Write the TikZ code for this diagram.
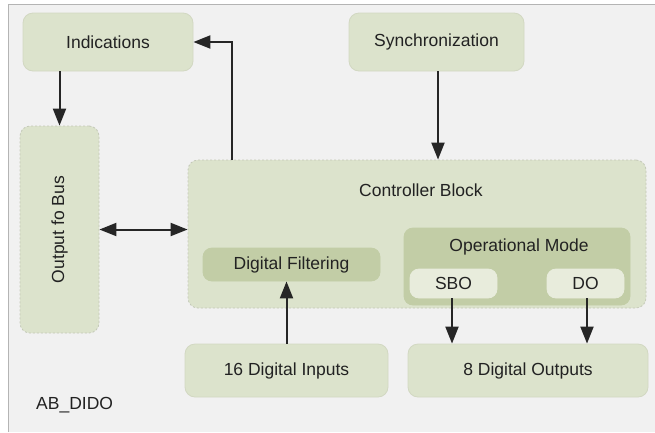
\documentclass[tikz,border=0pt]{standalone}
\usepackage{fontspec}
\setmainfont{Liberation Sans}
\usetikzlibrary{arrows.meta}
\definecolor{bg}{HTML}{F1F1F1}
\definecolor{frame}{HTML}{B4B4B4}
\definecolor{boxfill}{HTML}{DCE3CC}
\definecolor{boxline}{HTML}{D2D8C2}
\definecolor{darkfill}{HTML}{C2CDA6}
\definecolor{lightfill}{HTML}{E8ECDC}
\definecolor{dashline}{HTML}{C4C9B8}
\definecolor{txt}{HTML}{222222}
\tikzset{
  box/.style={draw=boxline, line width=0.8pt, fill=boxfill, rounded corners=10pt, inner sep=0pt, text=txt, font=\fontsize{17.5}{21}\selectfont},
  dbox/.style={box, draw=dashline, dash pattern=on 2pt off 2pt},
  darkbox/.style={box, fill=darkfill, draw=darkfill, rounded corners=9pt},
  lightbox/.style={box, fill=lightfill, draw=lightfill, rounded corners=9pt},
  lbl/.style={inner sep=0pt, text=txt, font=\fontsize{17.5}{21}\selectfont},
  arr/.style={draw=black!85, line width=2pt, -{Triangle[length=17pt 0,width=13pt 0]}},
  darr/.style={draw=black!85, line width=2pt, {Triangle[length=17pt 0,width=13pt 0]}-{Triangle[length=17pt 0,width=13pt 0]}}
}
\begin{document}
\begin{tikzpicture}[x=1pt,y=-1pt]
\useasboundingbox (0,0) rectangle (655,432);
\fill[white] (0,0) rectangle (655,432);
\fill[bg] (8,4) rectangle (655,432);
\draw[frame, line width=1pt] (8,432) -- (8,4) -- (655,4);

\node[box, minimum width=170pt, minimum height=58pt] (ind) at (108,42) {Indications};
\node[box, minimum width=175pt, minimum height=58pt] (sync) at (436.5,42) {Synchronization};
\node[dbox, minimum width=79pt, minimum height=207pt] (bus) at (59.5,229.5) {};
\node[lbl, rotate=90] (bustext) at (bus.center) {Output fo Bus};
\node[dbox, minimum width=458pt, minimum height=148pt] (ctrl) at (417,234) {};
\node[lbl] (ctrltext) at (421,190) {Controller Block};
\node[darkbox, minimum width=177pt, minimum height=33pt] (filt) at (291.5,264.5) {Digital Filtering};
\node[darkbox, minimum width=226pt, minimum height=77pt] (opm) at (517,266.5) {};
\node[lbl] (opmtext) at (519,247) {Operational Mode};
\node[lightbox, minimum width=87pt, minimum height=29pt] (sbo) at (453.5,283.5) {SBO};
\node[lightbox, minimum width=77pt, minimum height=29pt] (do) at (585.5,283.5) {DO};
\node[box, minimum width=203pt, minimum height=53pt] (di) at (286.5,370.5) {16 Digital Inputs};
\node[box, minimum width=240pt, minimum height=53pt] (dout) at (528,370.5) {8 Digital Outputs};
\node[lbl, anchor=west] (ab) at (36,405) {AB\_DIDO};

\draw[arr] (bus.north |- ind.south) -- (bus.north);
\draw[arr] ([xshift=44pt]ctrl.north west) |- (ind.east);
\draw[arr] ([xshift=1.5pt]sync.south) -- ([xshift=1.5pt]sync.south |- ctrl.north);
\draw[darr] (bus.east) -- (bus.east -| ctrl.west);
\draw[arr] (di.north) -- (di.north |- filt.south);
\draw[arr] ([xshift=-1.5pt]sbo.south) -- ([xshift=-1.5pt]sbo.south |- dout.north);
\draw[arr] ([xshift=1.5pt]do.south) -- ([xshift=1.5pt]do.south |- dout.north);
\end{tikzpicture}
\end{document}
